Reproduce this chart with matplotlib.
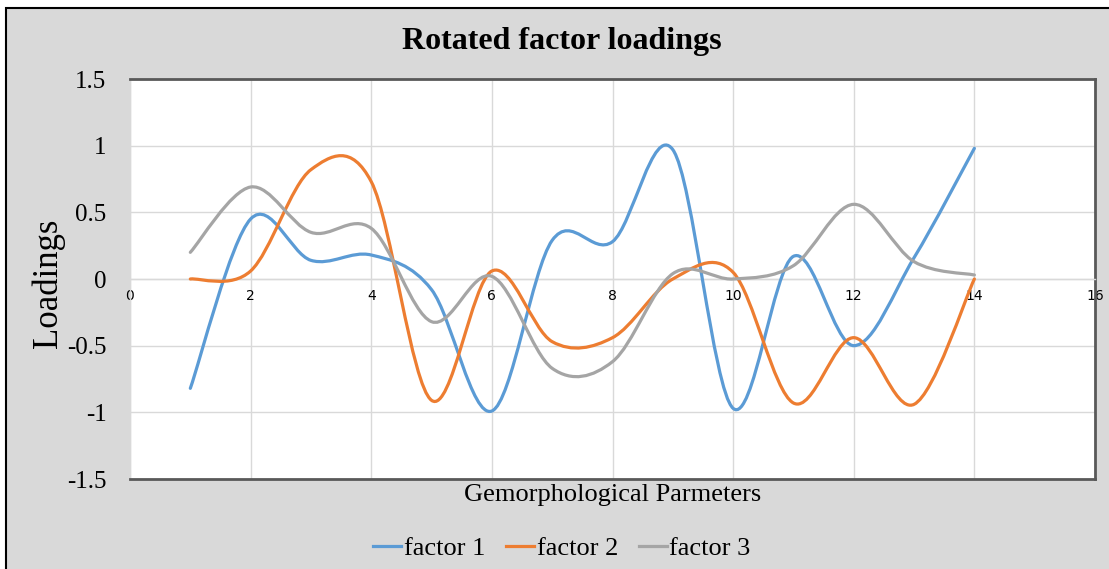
import matplotlib
matplotlib.use("Agg")
import matplotlib.pyplot as plt
from matplotlib.path import Path
from matplotlib.patches import PathPatch, Rectangle
from matplotlib.lines import Line2D

# parameter number (x) and rotated loadings
params = [1, 2, 3, 4, 5, 6, 7, 8, 9, 10, 11, 12, 13, 14]
factor1 = [-0.82, 0.45, 0.14, 0.18, -0.08, -0.99, 0.29, 0.28, 0.97, -0.97, 0.17, -0.50, 0.16, 0.98]
factor2 = [0.00, 0.06, 0.82, 0.73, -0.91, 0.06, -0.47, -0.44, 0.00, 0.05, -0.93, -0.44, -0.94, 0.00]
factor3 = [0.20, 0.69, 0.35, 0.38, -0.32, 0.02, -0.67, -0.62, 0.04, 0.00, 0.10, 0.56, 0.13, 0.03]
series_names = ["factor 1", "factor 2", "factor 3"]
colors = ["#5B9BD5", "#ED7D31", "#A5A5A5"]

x_ticks = [0, 2, 4, 6, 8, 10, 12, 14, 16]
y_ticks = [-1.5, -1, -0.5, 0, 0.5, 1, 1.5]
y_tick_labels = ["-1.5", "-1", "-0.5", "0", "0.5", "1", "1.5"]

SERIF = "Liberation Serif"
DARK = "#595959"
GRID = "#D9D9D9"


def smooth_path(xs, ys):
    # Excel style smoothed line: Catmull-Rom segments drawn as cubic Bezier curves
    pts = list(zip(xs, ys))
    verts = [pts[0]]
    codes = [Path.MOVETO]
    n = len(pts)
    for i in range(n - 1):
        p0 = pts[i - 1] if i > 0 else pts[i]
        p1 = pts[i]
        p2 = pts[i + 1]
        p3 = pts[i + 2] if i + 2 < n else pts[i + 1]
        c1 = (p1[0] + (p2[0] - p0[0]) / 6, p1[1] + (p2[1] - p0[1]) / 6)
        c2 = (p2[0] - (p3[0] - p1[0]) / 6, p2[1] - (p3[1] - p1[1]) / 6)
        verts += [c1, c2, p2]
        codes += [Path.CURVE4] * 3
    return Path(verts, codes)


fig = plt.figure(figsize=(11.09, 5.69), dpi=100, facecolor="white")
fig.patches.append(Rectangle((6 / 1109, -0.02), 1.02, (569 - 8) / 569 + 0.02,
                             transform=fig.transFigure, facecolor="#D9D9D9",
                             edgecolor="black", linewidth=1.5, zorder=-10))

ax = fig.add_axes([130 / 1109, 90 / 569, 965 / 1109, 400 / 569])
ax.set_facecolor("white")

for ys, c in zip([factor1, factor2, factor3], colors):
    ax.add_patch(PathPatch(smooth_path(params, ys), fill=False, edgecolor=c,
                           linewidth=2.3, capstyle="round", zorder=3))

ax.set_xlim(0, 16)
ax.set_ylim(-1.5, 1.5)
ax.set_xticks(x_ticks)
ax.set_xticklabels([str(t) for t in x_ticks], fontsize=7.5, color=DARK, family="Lato")
ax.set_yticks(y_ticks)
ax.set_yticklabels(y_tick_labels, fontsize=18, family=SERIF)
ax.tick_params(axis="x", length=0, pad=7)
ax.tick_params(axis="y", length=0, pad=17)
ax.grid(True, color=GRID, linewidth=1)
ax.set_axisbelow(True)

ax.spines["bottom"].set_position(("data", 0))
ax.spines["bottom"].set_color(GRID)
ax.spines["bottom"].set_linewidth(1)
ax.spines["left"].set_color(GRID)
ax.spines["left"].set_linewidth(1)
for s in ["top", "right"]:
    ax.spines[s].set_color(DARK)
    ax.spines[s].set_linewidth(2)
ax.plot([0, 1], [0, 0], transform=ax.transAxes, color=DARK, linewidth=2, clip_on=False, zorder=5)

fig.text(562 / 1109, (569 - 41) / 569, "Rotated factor loadings", ha="center", va="center",
         fontsize=23, fontweight="bold", family=SERIF)
fig.text(48 / 1109, (569 - 283) / 569, "Loadings", rotation=90, ha="center", va="center",
         fontsize=25, family=SERIF)
fig.text(613 / 1109, (569 - 495) / 569, "Gemorphological Parmeters", ha="center", va="center",
         fontsize=19, family=SERIF)

handles = [Line2D([], [], color=c, linewidth=2.3) for c in colors]
fig.legend(handles, series_names, loc="center", bbox_to_anchor=(562 / 1109, (569 - 548) / 569),
           ncol=3, frameon=False, handlelength=1.05, handletextpad=0.1, columnspacing=0.8,
           prop={"family": SERIF, "size": 19})

fig.savefig("out.png", dpi=100, facecolor=fig.get_facecolor())
